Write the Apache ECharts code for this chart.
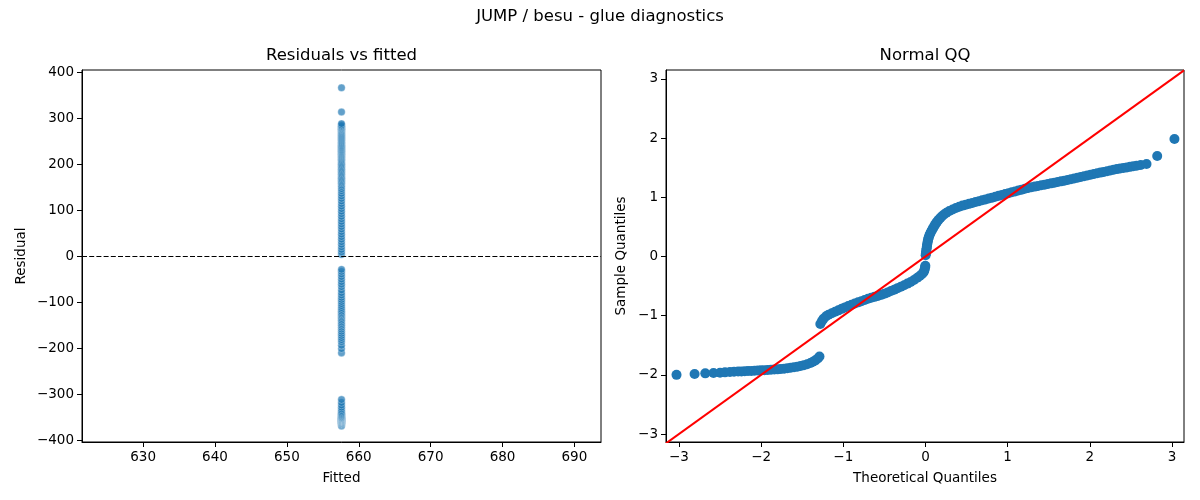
<!DOCTYPE html>
<html>
<head>
<meta charset="utf-8">
<script src="https://cdn.jsdelivr.net/npm/echarts@6/dist/echarts.min.js"></script>
<style>
html,body{margin:0;padding:0;background:#fff;}
#chart{width:1200px;height:500px;}
</style>
</head>
<body>
<div id="chart"></div>
<script>
// ---- data ----
const suptitle = "JUMP / besu - glue diagnostics";
const leftTitle = "Residuals vs fitted";
const rightTitle = "Normal QQ";

const fittedValue = 657.6;      // single fitted value (all points share it)
const residualScale = 184.5;    // residual std used to standardise for the QQ plot

const theoreticalQuantiles = [
  -3.03,-2.81,-2.68,-2.58,-2.50,-2.44,-2.38,-2.33,-2.28,-2.24,-2.20,-2.16,-2.12,-2.08,-2.04,-2.00,
  -1.96,-1.92,-1.88,-1.84,-1.80,-1.76,-1.72,-1.68,-1.64,-1.60,-1.56,-1.52,-1.48,-1.44,-1.40,-1.37,
  -1.34,-1.31,-1.29,
  -1.28,-1.26,-1.24,-1.21,-1.18,-1.14,-1.10,-1.06,-1.02,-0.98,-0.94,-0.90,-0.86,-0.82,-0.78,-0.74,
  -0.70,-0.66,-0.62,-0.58,-0.54,-0.50,-0.46,-0.42,-0.38,-0.34,-0.30,-0.26,-0.22,-0.18,-0.14,-0.10,
  -0.07,-0.045,-0.025,-0.015,-0.01,-0.005,-0.002,
  0.002,0.005,0.008,0.011,0.014,0.017,0.020,0.024,0.028,0.033,0.039,0.046,0.055,0.065,0.076,0.088,
  0.10,0.113,0.127,0.142,0.16,0.18,0.20,0.225,0.255,0.29,0.33,0.37,0.41,0.45,0.49,0.53,0.57,0.61,
  0.65,0.69,0.73,0.77,0.81,0.85,0.89,0.93,0.97,1.01,1.05,1.09,1.13,1.17,1.21,1.25,1.29,1.33,1.37,
  1.41,1.45,1.49,1.53,1.57,1.61,1.65,1.69,1.73,1.77,1.81,1.85,1.89,1.93,1.97,2.01,2.05,2.09,2.13,
  2.17,2.21,2.25,2.29,2.33,2.37,2.41,2.45,2.49,2.53,2.57,2.62,2.69,2.82,3.03
];
const sampleQuantiles = [
  -2.00,-1.985,-1.975,-1.97,-1.965,-1.958,-1.953,-1.949,-1.945,-1.942,-1.939,-1.936,-1.933,-1.93,-1.927,-1.924,
  -1.921,-1.918,-1.915,-1.911,-1.907,-1.902,-1.896,-1.889,-1.881,-1.872,-1.862,-1.85,-1.836,-1.82,-1.80,-1.78,
  -1.755,-1.725,-1.69,
  -1.14,-1.09,-1.05,-1.01,-0.985,-0.96,-0.935,-0.91,-0.885,-0.86,-0.837,-0.815,-0.795,-0.775,-0.755,-0.735,
  -0.715,-0.698,-0.682,-0.666,-0.648,-0.628,-0.607,-0.584,-0.56,-0.535,-0.51,-0.485,-0.458,-0.43,-0.398,-0.36,
  -0.33,-0.30,-0.27,-0.24,-0.21,-0.18,-0.155,
  0.02,0.05,0.08,0.11,0.14,0.17,0.20,0.23,0.26,0.29,0.32,0.35,0.38,0.41,0.44,0.47,
  0.50,0.53,0.56,0.59,0.62,0.65,0.68,0.71,0.74,0.77,0.795,0.82,0.84,0.86,0.875,0.89,0.905,0.92,
  0.935,0.95,0.965,0.98,0.995,1.01,1.025,1.04,1.055,1.07,1.085,1.10,1.115,1.13,1.144,1.158,1.17,1.181,1.192,
  1.203,1.214,1.225,1.236,1.247,1.258,1.27,1.281,1.293,1.305,1.318,1.331,1.344,1.357,1.37,1.382,1.394,1.406,1.418,
  1.43,1.442,1.454,1.466,1.477,1.488,1.497,1.506,1.515,1.524,1.533,1.546,1.563,1.70,1.985
];

const fittedTicks = [630, 640, 650, 660, 670, 680, 690];
const residualTicks = [-400, -300, -200, -100, 0, 100, 200, 300, 400];
const qqTicks = [-3, -2, -1, 0, 1, 2, 3];

// axis limits (as in the reference)
const fittedRange = [621.5, 693.7];
const residualRange = [-404, 405];
const theoRange = [-3.158, 3.146];
const sampleRange = [-3.135, 3.152];

// ---- build ----
const residualPoints = sampleQuantiles.map(q => [fittedValue, q * residualScale]);
const qqPoints = theoreticalQuantiles.map((t, i) => [t, sampleQuantiles[i]]);
const refLine = [[theoRange[0], theoRange[0]], [theoRange[1], theoRange[1]]];

const FONT = "DejaVu Sans";
const minus = v => String(v).replace('-', '\u2212');

function xAxisCfg(gridIndex, range, ticks, name) {
  return {
    type: 'value', gridIndex, min: range[0], max: range[1],
    name, nameLocation: 'middle', nameGap: 29,
    nameTextStyle: {color: '#000', fontSize: 13.5, fontFamily: FONT},
    axisLine: {show: true, onZero: false, lineStyle: {color: '#000', width: 1}},
    axisTick: {show: true, length: 5, inside: false, customValues: ticks, lineStyle: {color: '#000', width: 1}},
    axisLabel: {show: true, margin: 8, customValues: ticks, color: '#000', fontSize: 13.5, fontFamily: FONT, formatter: minus},
    splitLine: {show: false}
  };
}
function yAxisCfg(gridIndex, range, ticks, name, gap) {
  return {
    type: 'value', gridIndex, min: range[0], max: range[1],
    name, nameLocation: 'middle', nameGap: gap, nameRotate: 90,
    nameTextStyle: {color: '#000', fontSize: 13.5, fontFamily: FONT},
    axisLine: {show: true, onZero: false, lineStyle: {color: '#000', width: 1}},
    axisTick: {show: true, length: 5, inside: false, customValues: ticks, lineStyle: {color: '#000', width: 1}},
    axisLabel: {show: true, margin: 8, customValues: ticks, color: '#000', fontSize: 13.5, fontFamily: FONT, formatter: minus},
    splitLine: {show: false}
  };
}

const chart = echarts.init(document.getElementById('chart'), null, {renderer: 'canvas'});
chart.setOption({
  animation: false,
  backgroundColor: '#fff',
  textStyle: {fontFamily: FONT},
  title: [
    {text: suptitle, left: 600, top: 8, textAlign: 'center', padding: 0,
     textStyle: {fontSize: 16.5, fontWeight: 'normal', color: '#000', fontFamily: FONT}},
    {text: leftTitle, left: 341.5, top: 47, textAlign: 'center', padding: 0,
     textStyle: {fontSize: 16.5, fontWeight: 'normal', color: '#000', fontFamily: FONT}},
    {text: rightTitle, left: 925, top: 47, textAlign: 'center', padding: 0,
     textStyle: {fontSize: 16.5, fontWeight: 'normal', color: '#000', fontFamily: FONT}}
  ],
  grid: [
    {left: 82, top: 70, width: 519, height: 372, show: true, borderColor: '#000', borderWidth: 1, backgroundColor: 'transparent', containLabel: false},
    {left: 666, top: 70, width: 518, height: 372, show: true, borderColor: '#000', borderWidth: 1, backgroundColor: 'transparent', containLabel: false}
  ],
  xAxis: [
    xAxisCfg(0, fittedRange, fittedTicks, 'Fitted'),
    xAxisCfg(1, theoRange, qqTicks, 'Theoretical Quantiles')
  ],
  yAxis: [
    yAxisCfg(0, residualRange, residualTicks, 'Residual', 54),
    yAxisCfg(1, sampleRange, qqTicks, 'Sample Quantiles', 38)
  ],
  series: [
    {
      type: 'scatter', xAxisIndex: 0, yAxisIndex: 0,
      data: residualPoints, symbolSize: 7.5,
      itemStyle: {color: '#1f77b4', opacity: 0.7, borderColor: '#ffffff', borderWidth: 0.45},
      markLine: {
        silent: true, symbol: 'none', label: {show: false},
        lineStyle: {color: '#000', width: 1, type: [5, 2.2]},
        data: [{yAxis: 0}]
      },
      z: 2
    },
    {
      type: 'scatter', xAxisIndex: 1, yAxisIndex: 1,
      data: qqPoints, symbolSize: 10,
      itemStyle: {color: '#1f77b4', opacity: 1},
      z: 2
    },
    {
      type: 'line', xAxisIndex: 1, yAxisIndex: 1,
      data: refLine, symbol: 'none', clip: true,
      lineStyle: {color: '#ff0000', width: 2},
      z: 3
    }
  ]
});
</script>
</body>
</html>
